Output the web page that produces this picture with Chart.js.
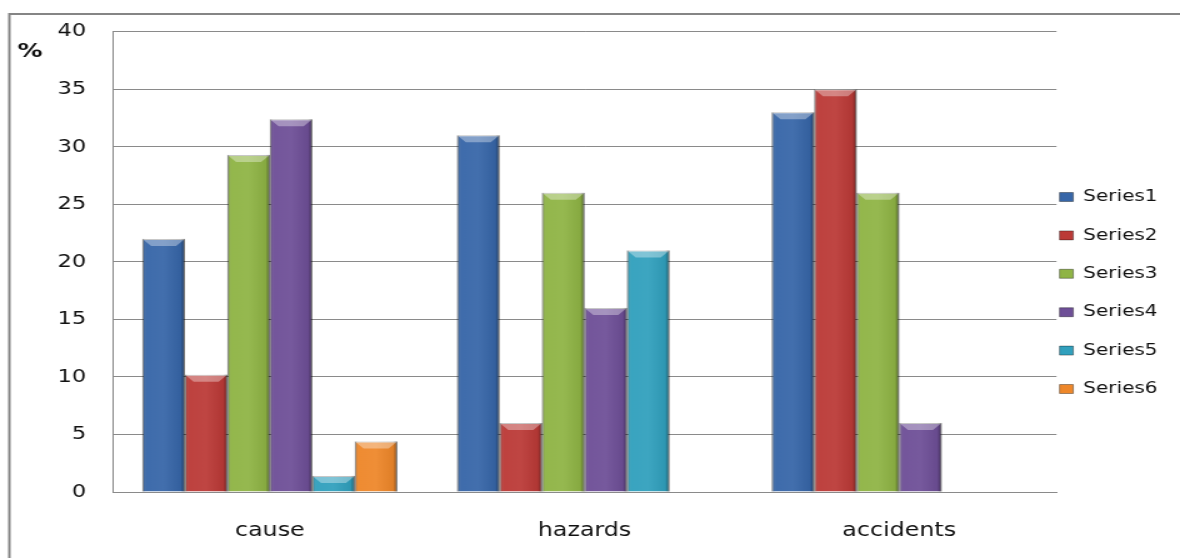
<!DOCTYPE html>
<html>
<head>
<meta charset="utf-8">
<script src="https://cdn.jsdelivr.net/npm/chart.js@4/dist/chart.umd.min.js"></script>
<style>
    html, body { margin: 0; padding: 0; background: #fff; overflow: hidden; }
    /* the original picture is stretched sideways, so the chart is drawn narrower and scaled */
    #wrap { width: 944px; height: 558px; transform: scaleX(1.25); transform-origin: 0 0; }
</style>
</head>
<body>
<div id="wrap"><canvas id="chart"></canvas></div>
<script>
// --------------------------------------------
// data
// --------------------------------------------
const categories = ['cause', 'hazards', 'accidents'];
const seriesNames = ['Series1', 'Series2', 'Series3', 'Series4', 'Series5', 'Series6'];
const series1 = [22, 31, 33];
const series2 = [10.2, 6, 35];
const series3 = [29.3, 26, 26];
const series4 = [32.4, 16, 6];
const series5 = [1.4, 21, null];
const series6 = [4.4, null, null];
const yTicks = [0, 5, 10, 15, 20, 25, 30, 35, 40];

const seriesValues = [series1, series2, series3, series4, series5, series6];
const seriesColors = ['#3766a8', '#bb3a37', '#8fb445', '#6e4f97', '#31a0bd', '#ee872a'];
const gridGray = '#8a8a8a';

// outer frame + "%" label
const framePlugin = {
    id: 'frame',
    beforeDraw(chart) {
        const ctx = chart.ctx;
        ctx.save();
        ctx.fillStyle = '#fff';
        ctx.fillRect(0, 0, chart.width, chart.height);
        ctx.strokeStyle = '#858585';
        ctx.lineWidth = 2;
        ctx.strokeRect(7.5, 14, chart.width + 20, chart.height + 20);
        ctx.restore();
    },
    afterDraw(chart) {
        const ctx = chart.ctx;
        ctx.save();
        ctx.fillStyle = '#111';
        ctx.font = 'bold 20px "DejaVu Sans"';
        ctx.textAlign = 'center';
        ctx.textBaseline = 'middle';
        ctx.fillText('%', 24, 52);
        ctx.restore();
    }
};

// bevel look on each bar (edges darker, lighter top chamfer)
const bevelPlugin = {
    id: 'bevel',
    afterDatasetsDraw(chart) {
        const ctx = chart.ctx;
        chart.data.datasets.forEach((ds, i) => {
            const meta = chart.getDatasetMeta(i);
            meta.data.forEach((bar, j) => {
                if (ds.data[j] == null) return;
                const { x, y, base, width } = bar.getProps(['x', 'y', 'base', 'width'], true);
                const l = x - width / 2, r = x + width / 2;
                const h = base - y;
                ctx.save();
                const g = ctx.createLinearGradient(l, 0, r, 0);
                g.addColorStop(0, 'rgba(0,0,0,0.30)');
                g.addColorStop(0.1, 'rgba(255,255,255,0.04)');
                g.addColorStop(0.5, 'rgba(255,255,255,0.06)');
                g.addColorStop(0.9, 'rgba(0,0,0,0.06)');
                g.addColorStop(1, 'rgba(0,0,0,0.45)');
                ctx.fillStyle = g;
                ctx.fillRect(l, y, width, h);
                const b = Math.min(7, h / 2);
                ctx.beginPath();
                ctx.moveTo(l, y);
                ctx.lineTo(r, y);
                ctx.lineTo(r - b, y + b);
                ctx.lineTo(l + b, y + b);
                ctx.closePath();
                ctx.fillStyle = 'rgba(255,255,255,0.35)';
                ctx.fill();
                ctx.restore();
            });
        });
    }
};

// legend: nudge it to where the reference has it
const legendShift = {
    id: 'legendShift',
    afterLayout(chart) {
        const lg = chart.legend;
        lg.left -= 20; lg.right -= 20;
        lg.top += 7; lg.bottom += 7;
    }
};

const datasets = seriesNames.map((name, i) => ({
    label: name,
    data: seriesValues[i],
    backgroundColor: seriesColors[i],
    borderColor: 'rgba(0,0,0,0.35)',
    borderWidth: 1,
    categoryPercentage: 0.81,
    barPercentage: 1
}));

new Chart(document.getElementById('chart'), {
    type: 'bar',
    data: { labels: categories, datasets },
    plugins: [framePlugin, bevelPlugin, legendShift],
    options: {
        responsive: true,
        maintainAspectRatio: false,
        devicePixelRatio: 1,
        animation: false,
        layout: { padding: { top: 30, left: 0, right: -12, bottom: 16 } },
        plugins: {
            tooltip: { enabled: false },
            legend: {
                position: 'right',
                labels: {
                    boxWidth: 11,
                    boxHeight: 9,
                    padding: 22.4,
                    color: '#111',
                    font: { family: 'DejaVu Sans', size: 16 }
                }
            }
        },
        scales: {
            x: {
                afterFit(scale) { scale.height = 50; },
                grid: { display: false, drawTicks: false },
                border: { display: true, color: gridGray, width: 1 },
                ticks: { color: '#111', padding: 28, font: { family: 'DejaVu Sans', size: 19 } }
            },
            y: {
                min: 0,
                max: 40,
                afterFit(scale) { scale.width = 90; },
                afterBuildTicks(scale) { scale.ticks = yTicks.map(v => ({ value: v })); },
                grid: { color: gridGray, lineWidth: 1, drawTicks: false },
                border: { display: true, color: gridGray, width: 1 },
                ticks: { color: '#111', padding: 21, font: { family: 'DejaVu Sans', size: 18 } }
            }
        }
    }
});
</script>
</body>
</html>
